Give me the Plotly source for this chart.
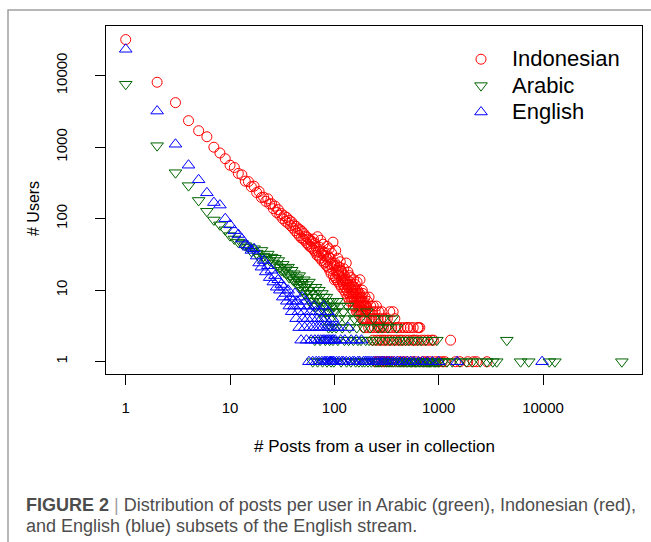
import plotly.graph_objects as go

# ---------------- data ----------------
x_tick_vals = [1, 10, 100, 1000, 10000]
x_tick_text = ["1", "10", "100", "1000", "10000"]
y_tick_vals = [1, 10, 100, 1000, 10000]
y_tick_text = ["1", "10", "100", "1000", "10000"]

series_names = ["Indonesian", "Arabic", "English"]

# Indonesian: number of users for posts = 1..200
ind_counts = [
    32000, 8100, 4200, 2350, 1700, 1400, 1000, 830, 690, 560,
    520, 430, 410, 335, 330, 280, 285, 232, 240, 198,
    200, 175, 190, 160, 162, 138, 150, 122, 134, 112,
    118, 100, 110, 92, 104, 86, 95, 80, 90, 74,
    82, 68, 78, 63, 72, 58, 70, 54, 66, 52,
    62, 50, 57, 46, 55, 44, 52, 41, 50, 40,
    48, 38, 52, 36, 45, 34, 40, 31, 56, 35,
    30, 40, 28, 50, 33, 26, 35, 44, 31, 24,
    34, 25, 30, 22, 41, 27, 21, 29, 38, 19,
    28, 23, 17, 33, 20, 24, 47, 16, 22, 14,
    24, 15, 36, 19, 14, 22, 17, 28, 13, 18,
    16, 21, 12, 25, 19, 14, 11, 18, 15, 13,
    17, 12, 20, 10, 16, 11, 14, 13, 9, 24,
    12, 10, 14, 8, 18, 11, 9, 12, 16, 7,
    11, 13, 8, 15, 9, 12, 7, 10, 8, 11,
    9, 6, 14, 8, 7, 11, 9, 6, 12, 10,
    7, 9, 5, 8, 13, 10, 7, 5, 9, 6,
    8, 7, 5, 9, 6, 14, 8, 7, 5, 6,
    7, 5, 8, 4, 10, 7, 5, 9, 4, 6,
    5, 7, 4, 6, 3, 5, 8, 4, 6, 5,
]
ind_tail_posts = [
    202, 205, 207, 210, 213, 215, 218, 220, 223, 225,
    228, 231, 234, 236, 240, 243, 246, 248, 250, 253,
    256, 260, 262, 263, 267, 270, 274, 278, 282, 285,
    286, 290, 295, 298, 300, 305, 310, 316, 322, 328,
    333, 334, 340, 347, 354, 361, 366, 372, 380, 388,
    396, 405, 414, 424, 434, 445, 456, 468, 480, 493,
    500, 506, 520, 535, 550, 566, 570, 583, 600, 620,
    630, 640, 660, 683, 707, 733, 760, 790, 820, 855,
    890, 930, 1000, 1080, 1150, 1300, 1450, 1600, 1900, 2150,
    2300, 2900,
]
ind_tail_users = [
    6, 4, 7, 5, 3, 8, 4, 5, 6, 3,
    4, 5, 2, 6, 4, 3, 5, 1, 4, 6,
    2, 3, 1, 4, 5, 3, 2, 4, 3, 1,
    5, 2, 3, 1, 4, 2, 3, 1, 4, 2,
    1, 3, 5, 2, 3, 1, 5, 2, 4, 3,
    2, 3, 1, 2, 3, 2, 1, 3, 2, 1,
    3, 3, 2, 3, 1, 2, 3, 2, 1, 2,
    3, 3, 3, 2, 1, 2, 1, 2, 1, 2,
    2, 1, 1, 1, 1, 2, 1, 1, 1, 1,
    1, 1,
]

# Arabic: number of users for posts = 1..100
arb_counts = [
    7600, 1050, 440, 290, 180, 127, 96, 82, 70, 58,
    52, 47, 45, 42, 40, 35, 38, 33, 29, 36,
    30, 27, 32, 26, 29, 24, 28, 22, 26, 21,
    19, 23, 18, 20, 17, 21, 15, 16, 19, 14,
    17, 13, 15, 14, 12, 16, 11, 13, 12, 10,
    14, 9, 11, 12, 8, 10, 13, 9, 7, 11,
    8, 1, 6, 9, 2, 11, 8, 6, 1, 7,
    10, 5, 2, 7, 6, 9, 1, 7, 8, 4,
    6, 2, 5, 8, 1, 6, 7, 3, 5, 2,
    7, 4, 1, 6, 3, 7, 2, 5, 1, 6,
]
arb_tail_posts = [
    102, 104, 106, 108, 110, 113, 116, 119, 122, 125,
    128, 131, 134, 137, 140, 144, 148, 152, 156, 160,
    164, 168, 172, 176, 180, 185, 190, 195, 200, 205,
    210, 215, 220, 226, 232, 238, 244, 250, 256, 262,
    268, 275, 282, 289, 296, 303, 310, 318, 326, 334,
    342, 350, 359, 368, 377, 386, 395, 405, 415, 425,
    436, 447, 458, 470, 482, 494, 506, 519, 532, 545,
    559, 573, 587, 602, 617, 632, 648, 664, 681, 698,
    715, 733, 751, 770, 789, 809, 829, 850, 871, 893,
    915, 938, 961, 985, 1010, 1100, 1200, 1350, 1600, 1850,
    2100, 2500, 2900, 3300, 3600, 4500, 6100, 7300, 11500, 13000,
    57000,
]
arb_tail_users = [
    5, 3, 7, 2, 4, 6, 1, 3, 5, 2,
    4, 1, 6, 2, 3, 1, 5, 2, 4, 1,
    3, 2, 1, 4, 2, 1, 3, 1, 2, 5,
    1, 2, 3, 1, 2, 4, 1, 2, 1, 3,
    1, 2, 1, 3, 4, 1, 2, 1, 3, 1,
    2, 1, 4, 1, 2, 1, 3, 1, 2, 1,
    1, 2, 1, 1, 2, 1, 1, 2, 1, 1,
    1, 2, 1, 1, 1, 2, 1, 1, 2, 1,
    1, 1, 2, 1, 1, 1, 1, 1, 2, 1,
    1, 1, 2, 1, 1, 1, 1, 1, 1, 1,
    1, 1, 1, 1, 1, 2, 1, 1, 1, 1,
    1,
]

# English: number of users for posts = 1..100
eng_counts = [
    23400, 3200, 1100, 560, 350, 230, 168, 155, 100, 82,
    68, 60, 52, 43, 40, 36, 38, 30, 24, 21,
    26, 18, 22, 15, 19, 13, 16, 11, 14, 10,
    12, 8, 11, 9, 7, 10, 6, 8, 5, 7,
    6, 9, 4, 7, 5, 3, 6, 2, 8, 4,
    5, 3, 7, 2, 4, 6, 1, 3, 5, 2,
    4, 1, 3, 6, 2, 5, 1, 3, 4, 2,
    1, 3, 5, 2, 4, 1, 3, 2, 6, 1,
    2, 4, 1, 3, 2, 1, 5, 2, 3, 1,
    2, 1, 3, 1, 2, 4, 1, 2, 1, 3,
]
eng_tail_posts = [
    102, 105, 108, 111, 115, 118, 122, 126, 130, 135,
    140, 145, 150, 156, 162, 168, 175, 182, 190, 198,
    206, 215, 225, 236, 248, 260, 273, 287, 300, 318,
    335, 355, 377, 400, 430, 460, 500, 540, 580, 640,
    700, 780, 870, 1000, 1500, 9800,
]
eng_tail_users = [
    2, 1, 3, 1, 2, 1, 1, 2, 1, 3,
    1, 2, 1, 1, 2, 1, 1, 2, 1, 1,
    1, 1, 1, 1, 1, 1, 1, 1, 1, 1,
    1, 1, 1, 1, 1, 1, 1, 1, 1, 1,
    1, 1, 1, 1, 1, 1,
]

# ---------------- figure ----------------
ind_x = list(range(1, len(ind_counts) + 1)) + ind_tail_posts
ind_y = ind_counts + ind_tail_users
arb_x = list(range(1, len(arb_counts) + 1)) + arb_tail_posts
arb_y = arb_counts + arb_tail_users
eng_x = list(range(1, len(eng_counts) + 1)) + eng_tail_posts
eng_y = eng_counts + eng_tail_users

FONT = "Liberation Sans, Arial, Helvetica, sans-serif"
LEG = "<span style='font-size:22px'>%s</span>"

fig = go.Figure()
fig.add_trace(go.Scatter(
    x=ind_x, y=ind_y, mode="markers", name=LEG % series_names[0],
    marker=dict(symbol="circle-open", size=10, color="#ff0000", line=dict(width=1, color="#ff0000")),
))
fig.add_trace(go.Scatter(
    x=arb_x, y=arb_y, mode="markers", name=LEG % series_names[1],
    marker=dict(symbol="triangle-down-open", size=11, color="#006400", line=dict(width=1, color="#006400")),
))
fig.add_trace(go.Scatter(
    x=eng_x, y=eng_y, mode="markers", name=LEG % series_names[2],
    marker=dict(symbol="triangle-up-open", size=11, color="#0000ff", line=dict(width=1, color="#0000ff")),
))

axis_common = dict(
    type="log", showgrid=False, zeroline=False,
    showline=True, linecolor="black", linewidth=1, mirror=True,
    ticks="outside", ticklen=10, tickwidth=1, tickcolor="black",
    tickfont=dict(family=FONT, size=15, color="black"),
)
fig.update_xaxes(range=[-0.189, 4.949], tickvals=x_tick_vals, ticktext=x_tick_text,
                 ticklabelstandoff=10, **axis_common)
fig.update_yaxes(range=[-0.172, 4.695], tickvals=y_tick_vals, ticktext=y_tick_text,
                 tickangle=-90, ticklabelstandoff=22, **axis_common)

L, R, T, B = 106, 9, 26, 168
W, H = 651, 542
pw, ph = W - L - R, H - T - B

def px(xp):
    return (xp - L) / pw

def py(yp):
    return (H - B - yp) / ph

CAP = "#4d4d4d"
fig.update_layout(
    width=W, height=H,
    margin=dict(l=L, r=R, t=T, b=B, pad=0),
    paper_bgcolor="white", plot_bgcolor="white",
    font=dict(family=FONT, color="black"),
    showlegend=True,
    legend=dict(
        x=px(450), y=py(41), xanchor="left", yanchor="top",
        bgcolor="rgba(0,0,0,0)", borderwidth=0, itemwidth=52,
        font=dict(family=FONT, size=18, color="black"),
        tracegroupgap=0,
    ),
    annotations=[
        dict(text="# Posts from a user in collection", xref="paper", yref="paper",
             x=0.5, y=py(447), xanchor="center", yanchor="middle", showarrow=False,
             font=dict(family=FONT, size=17, color="black")),
        dict(text="# Users", xref="paper", yref="paper", textangle=-90,
             x=px(33), y=py(209), xanchor="center", yanchor="middle", showarrow=False,
             font=dict(family=FONT, size=16, color="black")),
        dict(text="<b>FIGURE 2</b> <span style='color:#a0a0a0'>|</span> Distribution of posts per user in Arabic (green), Indonesian (red),",
             xref="paper", yref="paper", x=px(24), y=py(505), xanchor="left", yanchor="middle",
             align="left", showarrow=False,
             font=dict(family=FONT, size=18, color=CAP)),
        dict(text="and English (blue) subsets of the English stream.",
             xref="paper", yref="paper", x=px(24), y=py(526), xanchor="left", yanchor="middle",
             align="left", showarrow=False,
             font=dict(family=FONT, size=18, color=CAP)),
    ],
    shapes=[
        dict(type="path", xref="paper", yref="paper",
             path=f"M {px(8)} {py(542)} L {px(8)} {py(10)} L {px(651)} {py(10)}",
             line=dict(color="#a0a0a0", width=1.5)),
    ],
)

fig.write_html("out.html", config={"displayModeBar": False},
               post_script="document.body.style.margin='0px';")
